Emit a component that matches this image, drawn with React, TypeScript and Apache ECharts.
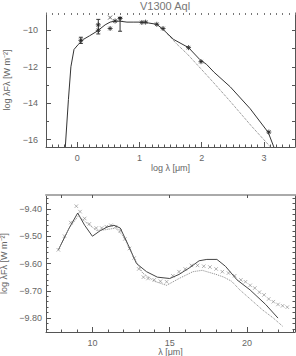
import React, { useEffect, useRef } from "react";
import * as echarts from "echarts";

// ---- Top panel: SED (log lambda [um] vs log lambda F_lambda) ----
const sedSolidX = [-0.19, -0.14, -0.1, -0.05, 0.02, 0.1, 0.2, 0.32, 0.45, 0.53, 0.6, 0.69, 0.8, 0.9, 1.0, 1.06, 1.15, 1.28, 1.38, 1.55, 1.79, 1.97, 2.08, 2.2, 2.46, 2.78, 3.07, 3.16];
const sedSolidY = [-16.4, -13.8, -12.0, -11.05, -10.77, -10.5, -10.3, -10.05, -9.7, -9.55, -9.5, -9.5, -9.55, -9.55, -9.55, -9.55, -9.6, -9.67, -9.95, -10.5, -10.95, -11.6, -11.87, -12.3, -13.1, -14.3, -15.6, -16.4];
const sedDotX = [1.45, 1.6, 1.77, 2.0, 2.2, 2.46, 2.8, 3.12];
const sedDotY = [-10.2, -10.75, -11.3, -12.15, -12.9, -13.9, -15.25, -16.45];
const photX = [0.06, 0.34, 0.34, 0.53, 0.61, 0.69, 1.04, 1.1, 1.28, 1.38, 1.79, 1.99, 3.08];
const photY = [-10.55, -9.7, -10.0, -9.9, -9.49, -9.35, -9.57, -9.55, -9.67, -9.9, -10.95, -11.72, -15.58];
const crossPtX = [0.53];
const crossPtY = [-9.3];
const errX = [0.06, 0.34, 0.69];
const errLo = [-10.72, -10.2, -10.05];
const errHi = [-10.38, -9.4, -9.3];

// ---- Bottom panel: mid-IR spectrum (lambda [um]) ----
const specX = [7.8, 8.2, 8.6, 8.96, 9.2, 9.5, 9.8, 10.25, 10.6, 10.9, 11.2, 11.5, 11.8, 12.1, 12.4, 12.7, 13.0, 13.3, 13.6, 14.0, 14.4, 14.8, 15.2, 15.6, 16.0, 16.4, 16.8, 17.2, 17.6, 18.0, 18.4, 18.8, 19.2, 19.6, 19.9, 20.2, 20.5, 20.8, 21.1, 21.4, 21.7, 22.0, 22.3, 22.6];
const specY = [-9.55, -9.5, -9.45, -9.39, -9.41, -9.435, -9.455, -9.47, -9.47, -9.465, -9.46, -9.465, -9.48, -9.51, -9.545, -9.58, -9.62, -9.65, -9.655, -9.66, -9.665, -9.667, -9.645, -9.63, -9.62, -9.607, -9.607, -9.61, -9.613, -9.62, -9.63, -9.635, -9.645, -9.66, -9.667, -9.68, -9.69, -9.705, -9.715, -9.73, -9.74, -9.75, -9.755, -9.76];
const modSolidX = [7.8, 8.5, 9.05, 9.5, 10.0, 10.5, 11.0, 11.4, 11.8, 12.3, 12.85, 13.5, 14.2, 15.0, 15.6, 16.3, 16.9, 17.4, 18.05, 18.6, 19.35, 20.2, 21.2, 22.0];
const modSolidY = [-9.55, -9.47, -9.415, -9.46, -9.5, -9.48, -9.465, -9.46, -9.47, -9.53, -9.6, -9.63, -9.65, -9.655, -9.64, -9.615, -9.59, -9.585, -9.585, -9.61, -9.66, -9.697, -9.75, -9.8];
const modDotX = [7.8, 8.5, 9.1, 9.6, 10.3, 11.0, 11.5, 12.0, 12.6, 13.25, 14.0, 14.8, 15.6, 16.5, 17.1, 18.0, 18.5, 19.0, 19.5, 20.2, 21.0, 21.7, 22.3];
const modDotY = [-9.55, -9.47, -9.425, -9.45, -9.48, -9.475, -9.47, -9.5, -9.57, -9.635, -9.665, -9.68, -9.655, -9.63, -9.625, -9.64, -9.65, -9.665, -9.695, -9.73, -9.77, -9.8, -9.83];

// ---- Tick labels ----
const topXTicks = [0, 1, 2, 3];
const topYTicks = [-16, -14, -12, -10];
const topYMinor = [-15, -13, -11];
const botXTicks = [10, 15, 20];
const botYTicks = [-9.8, -9.7, -9.6, -9.5, -9.4];

const FONT = "Liberation Sans";
const AX = "#555";
const TXT = "#666";

const range = (a: number, b: number, step: number) => {
  const out: number[] = [];
  for (let i = 0; a + i * step <= b + 1e-9; i++) out.push(+(a + i * step).toFixed(4));
  return out;
};
const zip = (xs: number[], ys: number[]) => xs.map((x, i) => [x, ys[i]]);
const minus = (v: number, d: number) => (v < 0 ? "\u2212" : "") + Math.abs(v).toFixed(d);

const ASTER = "path://M5,0L5,10M0,5L10,5M1.5,1.5L8.5,8.5M8.5,1.5L1.5,8.5";
const XMARK = "path://M0,0L10,10M10,0L0,10";

export default function App() {
  const ref = useRef<HTMLDivElement>(null);
  useEffect(() => {
    document.body.style.margin = "0";
    const chart = echarts.init(ref.current!, null, { renderer: "svg" });
    const line = (show: boolean, extra: any = {}) => ({ show, onZero: false, lineStyle: { color: AX, width: 1, ...extra } });
    const baseAxis = (extra: any) => ({
      type: "value",
      splitLine: { show: false },
      axisLine: line(false),
      axisTick: { show: true, inside: true, length: 3, lineStyle: { color: AX, width: 1 } },
      axisLabel: { show: false, color: TXT, fontFamily: FONT, fontSize: 9 },
      ...extra,
    });
    const T = { min: -0.5, max: 3.5 };
    const TY = { min: -16.4, max: -9.05 };
    const B = { min: 7, max: 23.1 };
    const BY = { min: -9.851, max: -9.349 };
    const nameStyle = { color: TXT, fontFamily: FONT, fontSize: 9 };

    const xAxis = [
      baseAxis({
        gridIndex: 0, position: "bottom", ...T,
        axisLine: line(true),
        axisTick: { show: true, inside: true, length: 5, customValues: topXTicks, lineStyle: { color: AX } },
        axisLabel: { show: true, customValues: topXTicks, color: TXT, fontFamily: FONT, fontSize: 9, margin: 6, formatter: (v: number) => String(v) },
        name: "log \u03bb [\u03bcm]", nameLocation: "middle", nameGap: 16, nameTextStyle: nameStyle,
      }),
      baseAxis({ gridIndex: 0, position: "bottom", ...T, axisTick: { show: true, inside: true, length: 2.5, customValues: range(-0.5, 3.5, 0.1), lineStyle: { color: AX } } }),
      baseAxis({ gridIndex: 0, position: "top", ...T, axisLine: line(false), axisTick: { show: true, inside: true, length: 2, customValues: range(-0.5, 3.5, 0.1), lineStyle: { color: "#777" } } }),
      baseAxis({
        gridIndex: 1, position: "bottom", ...B,
        axisLine: line(true),
        axisTick: { show: true, inside: true, length: 5, customValues: botXTicks, lineStyle: { color: AX } },
        axisLabel: { show: true, customValues: botXTicks, color: TXT, fontFamily: FONT, fontSize: 9, margin: 6, formatter: (v: number) => String(v) },
        name: "\u03bb [\u03bcm]", nameLocation: "middle", nameGap: 15, nameTextStyle: nameStyle,
      }),
      baseAxis({ gridIndex: 1, position: "bottom", ...B, axisTick: { show: true, inside: true, length: 2.5, customValues: range(7, 23, 1), lineStyle: { color: AX } } }),
      baseAxis({ gridIndex: 1, position: "top", ...B, axisLine: line(true, { color: "#aaa", width: 2 }), axisTick: { show: true, inside: true, length: 3, customValues: botXTicks.concat([8]), lineStyle: { color: AX } } }),
    ];
    const yAxis = [
      baseAxis({
        gridIndex: 0, position: "left", ...TY,
        axisLine: line(true),
        axisTick: { show: true, inside: true, length: 5, customValues: topYTicks, lineStyle: { color: AX } },
        axisLabel: { show: true, customValues: topYTicks, color: TXT, fontFamily: FONT, fontSize: 9, margin: 8, formatter: (v: number) => minus(v, 0) },
        name: "log \u03bbF\u03bb [W m\u207b\u00b2]", nameLocation: "middle", nameGap: 27, nameRotate: 90, nameTextStyle: nameStyle,
      }),
      baseAxis({ gridIndex: 0, position: "left", ...TY, axisTick: { show: true, inside: true, length: 3, customValues: topYMinor, lineStyle: { color: AX } } }),
      baseAxis({ gridIndex: 0, position: "right", ...TY, axisLine: line(true), axisTick: { show: true, inside: true, length: 3, customValues: range(-16, -10, 1), lineStyle: { color: AX } } }),
      baseAxis({
        gridIndex: 1, position: "left", ...BY,
        axisLine: line(true),
        axisTick: { show: true, inside: true, length: 5, customValues: botYTicks, lineStyle: { color: AX } },
        axisLabel: { show: true, customValues: botYTicks, color: TXT, fontFamily: FONT, fontSize: 9, margin: 4, formatter: (v: number) => minus(v, 2) },
        name: "log \u03bbF\u03bb [W m\u207b\u00b2]", nameLocation: "middle", nameGap: 29, nameRotate: 90, nameTextStyle: nameStyle,
      }),
      baseAxis({ gridIndex: 1, position: "left", ...BY, axisTick: { show: true, inside: true, length: 2.5, customValues: range(-9.84, -9.36, 0.02), lineStyle: { color: AX } } }),
      baseAxis({ gridIndex: 1, position: "right", ...BY, axisLine: line(true), axisTick: { show: true, inside: true, length: 2.5, customValues: range(-9.84, -9.36, 0.02), lineStyle: { color: AX } } }),
    ];

    const option: any = {
      animation: false,
      backgroundColor: "#fff",
      grid: [
        { left: 46, top: 13, width: 249, height: 134, containLabel: false, outerBoundsMode: "none" },
        { left: 46, top: 195, width: 249, height: 137, containLabel: false, outerBoundsMode: "none" },
      ],
      xAxis,
      yAxis,
      graphic: [
        { type: "text", x: 165, y: 0, style: { text: "V1300 Aql", fill: "#777", font: `11px "${FONT}"`, textAlign: "center", textVerticalAlign: "top" } },
      ],
      series: [
        { type: "line", xAxisIndex: 0, yAxisIndex: 0, data: zip(sedSolidX, sedSolidY), showSymbol: false, lineStyle: { color: "#333", width: 1 }, clip: true },
        { type: "line", xAxisIndex: 0, yAxisIndex: 0, data: zip(sedDotX, sedDotY), showSymbol: false, lineStyle: { color: "#777", width: 1, type: "dotted" }, clip: true },
        {
          type: "custom", xAxisIndex: 0, yAxisIndex: 0,
          data: errX.map((x, i) => [x, errLo[i], errHi[i]]),
          encode: { x: 0, y: [1, 2] },
          renderItem: (params: any, api: any) => {
            const p1 = api.coord([api.value(0), api.value(1)]);
            const p2 = api.coord([api.value(0), api.value(2)]);
            const st = { stroke: "#333", lineWidth: 1 };
            return {
              type: "group",
              children: [
                { type: "line", shape: { x1: p1[0], y1: p1[1], x2: p2[0], y2: p2[1] }, style: st },
                { type: "line", shape: { x1: p1[0] - 2, y1: p1[1], x2: p1[0] + 2, y2: p1[1] }, style: st },
                { type: "line", shape: { x1: p2[0] - 2, y1: p2[1], x2: p2[0] + 2, y2: p2[1] }, style: st },
              ],
            };
          },
        },
        { type: "scatter", xAxisIndex: 0, yAxisIndex: 0, data: zip(photX, photY), symbol: ASTER, symbolSize: 5, itemStyle: { color: "transparent", borderColor: "#222", borderWidth: 1 } },
        { type: "scatter", xAxisIndex: 0, yAxisIndex: 0, data: zip(crossPtX, crossPtY), symbol: XMARK, symbolSize: 4, itemStyle: { color: "transparent", borderColor: "#444", borderWidth: 1 } },
        { type: "line", xAxisIndex: 3, yAxisIndex: 3, data: zip(modSolidX, modSolidY), showSymbol: false, lineStyle: { color: "#444", width: 1 }, clip: true },
        { type: "line", xAxisIndex: 3, yAxisIndex: 3, data: zip(modDotX, modDotY), showSymbol: false, lineStyle: { color: "#888", width: 1, type: "dotted" }, clip: true },
        { type: "scatter", xAxisIndex: 3, yAxisIndex: 3, data: zip(specX, specY), symbol: XMARK, symbolSize: 3.5, itemStyle: { color: "transparent", borderColor: "#777", borderWidth: 0.7 } },
      ],
    };
    chart.setOption(option);
    return () => chart.dispose();
  }, []);
  return <div ref={ref} style={{ position: "absolute", left: 0, top: 0, width: 296, height: 356 }} />;
}
